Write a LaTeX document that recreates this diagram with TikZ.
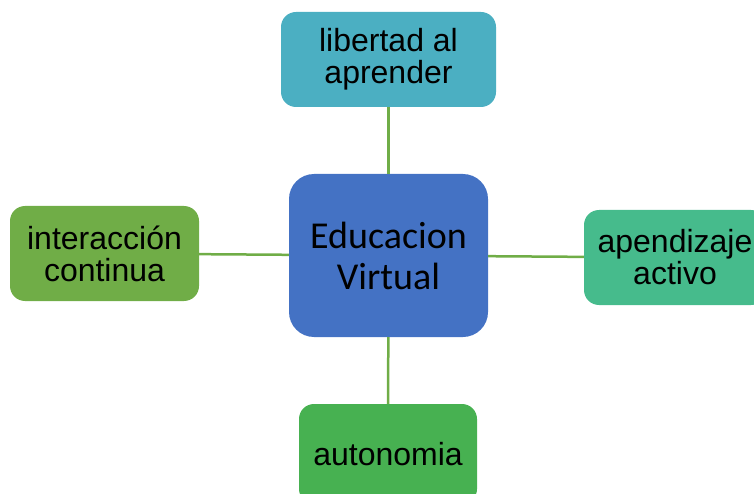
\documentclass[tikz,border=0pt]{standalone}
\usepackage{fontspec}
\setmainfont{Liberation Sans}
\newfontfamily\calibri{Carlito}
\usepackage{xcolor}
\definecolor{azul}{HTML}{4472C4}
\definecolor{turquesa}{HTML}{4BAFC2}
\definecolor{verdeagua}{HTML}{46BB8C}
\definecolor{verde}{HTML}{47B151}
\definecolor{oliva}{HTML}{70AD47}

\begin{document}
\begin{tikzpicture}[x=1pt,y=-1pt,
    caja/.style={rounded corners=15pt,align=center,inner sep=0pt,
                 font=\fontsize{32}{32}\selectfont},
    enlace/.style={draw=oliva,line width=2.5pt}]
    \useasboundingbox (0,0) rectangle (754,494);
    \clip (0,0) rectangle (754,494);

    \node[caja,fill=azul,rounded corners=25pt,minimum width=199pt,minimum height=163pt,
          font=\calibri\fontsize{38}{41}\selectfont] (edu) at (388.5,255.5) {Educacion\\Virtual};
    \node[caja,fill=turquesa,minimum width=215pt,minimum height=95pt] (libertad) at (388.5,59.5) {libertad al\\aprender};
    \node[caja,fill=oliva,minimum width=189pt,minimum height=95pt] (interaccion) at (104.5,253.5) {interacción\\continua};
    \node[caja,fill=verdeagua,minimum width=182pt,minimum height=95pt] (activo) at (675,257.5) {apendizaje\\activo};
    \node[caja,fill=verde,minimum width=178pt,minimum height=100pt] (autonomia) at (388,454) {autonomia};

    \draw[enlace] (libertad) -- (edu);
    \draw[enlace] (interaccion) -- (edu);
    \draw[enlace] (edu) -- (activo);
    \draw[enlace] (edu) -- (autonomia);
\end{tikzpicture}
\end{document}
